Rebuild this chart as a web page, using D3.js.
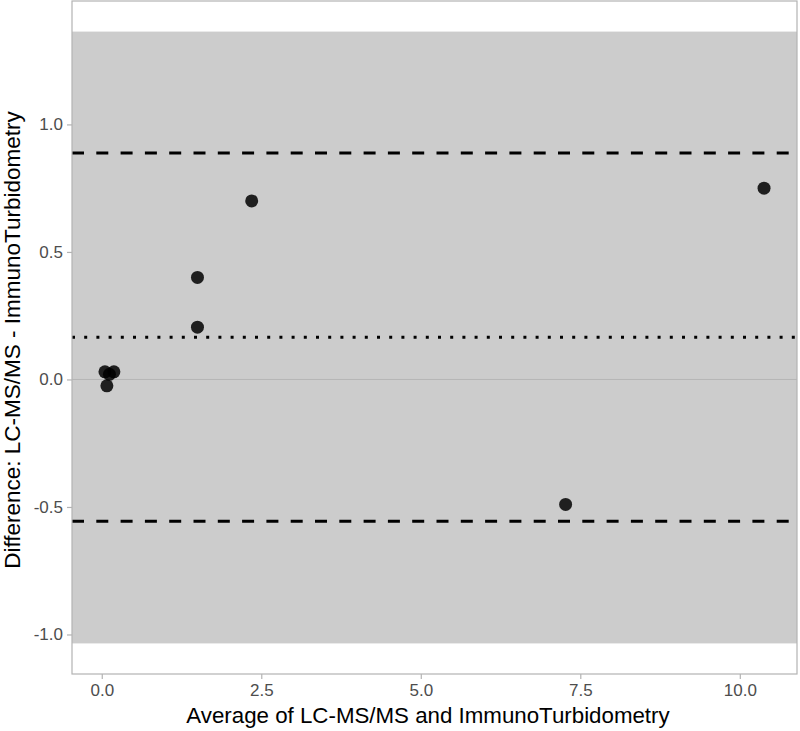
<!DOCTYPE html>
<html>
<head>
<meta charset="utf-8">
<script src="https://cdn.jsdelivr.net/npm/d3@7"></script>
<style>
  html, body { margin: 0; padding: 0; background: #fff; }
  text { font-family: "Liberation Sans", Arial, sans-serif; }
</style>
</head>
<body>
<svg id="chart" width="800" height="731"></svg>
<script>
// ---- data ----
const avgValues  = [0.05, 0.12, 0.19, 0.08, 1.50, 1.50, 2.35, 7.27, 10.38];
const diffValues = [0.030, 0.020, 0.030, -0.025, 0.40, 0.205, 0.70, -0.49, 0.75];
const meanDiff = 0.165;
const upperLoA = 0.888;
const lowerLoA = -0.556;
const bandLow = -1.035;
const bandHigh = 1.364;
const xTicks = [0, 2.5, 5, 7.5, 10];
const yTicks = [-1, -0.5, 0, 0.5, 1];
const xTitle = "Average of LC-MS/MS and ImmunoTurbidometry";
const yTitle = "Difference: LC-MS/MS - ImmunoTurbidometry";

// ---- layout ----
const L = 72, R = 797, T = 1, B = 674;

function expand(ext, f) { const r = ext[1] - ext[0]; return [ext[0] - r * f, ext[1] + r * f]; }

const x = d3.scaleLinear().domain(expand(d3.extent(avgValues), 0.05)).range([L, R]);
const y = d3.scaleLinear().domain(expand([bandLow, bandHigh], 0.05)).range([B, T]);

const svg = d3.select("#chart");

// band
svg.append("rect")
  .attr("x", L).attr("width", R - L)
  .attr("y", y(bandHigh)).attr("height", y(bandLow) - y(bandHigh))
  .attr("fill", "#cccccc");

// zero line
svg.append("line")
  .attr("x1", L).attr("x2", R)
  .attr("y1", y(0)).attr("y2", y(0))
  .attr("stroke", "#b5b5b5").attr("stroke-width", 1);

// LoA lines
[upperLoA, lowerLoA].forEach(v => {
  svg.append("line")
    .attr("x1", L).attr("x2", R)
    .attr("y1", y(v)).attr("y2", y(v))
    .attr("stroke", "#000").attr("stroke-width", 3)
    .attr("stroke-dasharray", "12,12.3");
});
svg.append("line")
  .attr("x1", L).attr("x2", R)
  .attr("y1", y(meanDiff)).attr("y2", y(meanDiff))
  .attr("stroke", "#000").attr("stroke-width", 3)
  .attr("stroke-dasharray", "3,9.2");

// points
svg.append("g").selectAll("circle")
  .data(avgValues.map((a, i) => [a, diffValues[i]]))
  .join("circle")
  .attr("cx", d => x(d[0])).attr("cy", d => y(d[1]))
  .attr("r", 6.5)
  .attr("fill", "#000").attr("fill-opacity", 0.85);

// panel border
svg.append("rect")
  .attr("x", L).attr("y", T).attr("width", R - L).attr("height", B - T)
  .attr("fill", "none").attr("stroke", "#b3b3b3").attr("stroke-width", 1.2);

// axes
const fmt = v => d3.format(".1f")(v).replace("\u2212", "-");
const xAxis = svg.append("g").attr("transform", `translate(0,${B})`)
  .call(d3.axisBottom(x).tickValues(xTicks).tickFormat(fmt).tickSize(5).tickPadding(5));
const yAxis = svg.append("g").attr("transform", `translate(${L},0)`)
  .call(d3.axisLeft(y).tickValues(yTicks).tickFormat(fmt).tickSize(5).tickPadding(4));
[xAxis, yAxis].forEach(g => {
  g.select(".domain").remove();
  g.selectAll(".tick line").attr("stroke", "#b3b3b3").attr("stroke-width", 1.2);
  g.selectAll(".tick text").attr("fill", "#4d4d4d")
    .style("font-size", "17px").style("font-family", "'Liberation Sans', Arial, sans-serif");
});

// titles
svg.append("text")
  .attr("x", 428).attr("y", 723)
  .attr("text-anchor", "middle")
  .style("font-size", "22.3px").attr("fill", "#000")
  .text(xTitle);
svg.append("text")
  .attr("transform", `translate(20,340) rotate(-90)`)
  .attr("text-anchor", "middle")
  .style("font-size", "22.5px").attr("fill", "#000")
  .text(yTitle);
</script>
</body>
</html>
